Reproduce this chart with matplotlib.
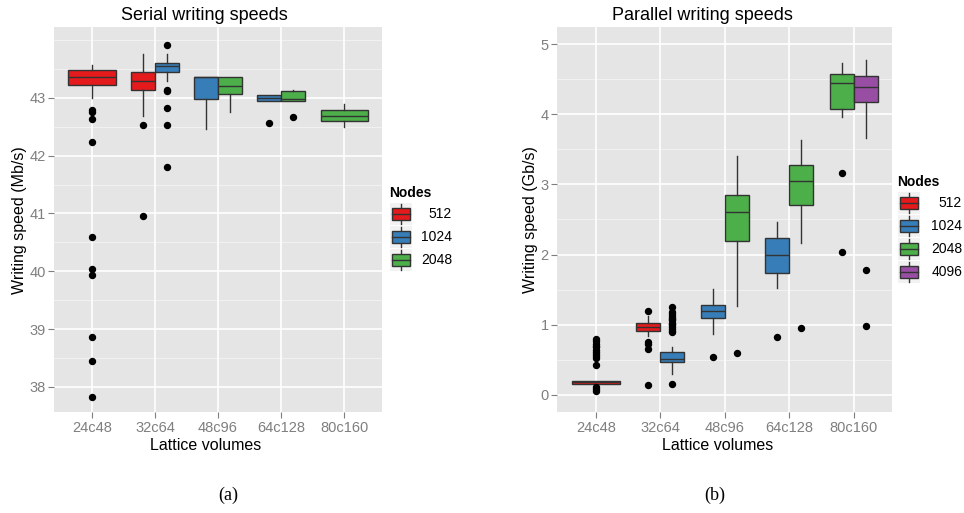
import numpy as np
import matplotlib
matplotlib.use("Agg")
import matplotlib.pyplot as plt
from matplotlib.patches import Rectangle
from matplotlib.lines import Line2D

plt.rcParams['font.family'] = ['Liberation Sans', 'DejaVu Sans']

W, H = 964, 513

volumes = ["24c48", "32c64", "48c96", "64c128", "80c160"]
node_labels = ["512", "1024", "2048", "4096"]
node_colors = ["#E41A1C", "#377EB8", "#4DAF4A", "#984EA3"]

# serial writing speeds (Mb/s), one list per node count, None = no run
serial_q1 = {"512": [43.23, 43.13, None, None, None],
             "1024": [None, 43.44, 42.98, 42.94, None],
             "2048": [None, None, 43.06, 42.94, 42.60]}
serial_med = {"512": [43.36, 43.29, None, None, None],
              "1024": [None, 43.55, 43.36, 42.99, None],
              "2048": [None, None, 43.21, 42.98, 42.69]}
serial_q3 = {"512": [43.48, 43.44, None, None, None],
             "1024": [None, 43.61, 43.36, 43.04, None],
             "2048": [None, None, 43.36, 43.11, 42.79]}
serial_lo = {"512": [42.99, 42.68, None, None, None],
             "1024": [None, 43.29, 42.46, 42.94, None],
             "2048": [None, None, 42.76, 42.94, 42.50]}
serial_hi = {"512": [43.57, 43.76, None, None, None],
             "1024": [None, 43.76, 43.36, 43.04, None],
             "2048": [None, None, 43.36, 43.13, 42.89]}
serial_out = {"512": [[42.79, 42.76, 42.64, 42.23, 40.60, 40.04, 39.93, 38.87, 38.44, 37.83],
                      [42.53, 40.95], [], [], []],
              "1024": [[], [43.91, 43.14, 43.12, 42.82, 42.53, 41.80], [], [42.56], []],
              "2048": [[], [], [], [42.67], []]}

# parallel writing speeds (Gb/s)
par_q1 = {"512": [0.16, 0.91, None, None, None],
          "1024": [None, 0.47, 1.10, 1.73, None],
          "2048": [None, None, 2.20, 2.71, 4.07],
          "4096": [None, None, None, None, 4.17]}
par_med = {"512": [0.18, 0.97, None, None, None],
           "1024": [None, 0.51, 1.19, 2.00, None],
           "2048": [None, None, 2.61, 3.05, 4.45],
           "4096": [None, None, None, None, 4.39]}
par_q3 = {"512": [0.19, 1.02, None, None, None],
          "1024": [None, 0.61, 1.28, 2.23, None],
          "2048": [None, None, 2.85, 3.28, 4.58],
          "4096": [None, None, None, None, 4.54]}
par_lo = {"512": [0.15, 0.84, None, None, None],
          "1024": [None, 0.30, 0.87, 1.53, None],
          "2048": [None, None, 1.26, 2.16, 3.96],
          "4096": [None, None, None, None, 3.66]}
par_hi = {"512": [0.20, 1.13, None, None, None],
          "1024": [None, 0.68, 1.51, 2.46, None],
          "2048": [None, None, 3.41, 3.64, 4.73],
          "4096": [None, None, None, None, 4.78]}
par_out = {"512": [[0.80, 0.77, 0.73, 0.70, 0.68, 0.64, 0.61, 0.58, 0.56, 0.53, 0.43, 0.11, 0.085, 0.06],
                   [1.19, 0.75, 0.72, 0.65, 0.14], [], [], []],
           "1024": [[], [1.25, 1.18, 1.15, 1.13, 1.10, 1.08, 1.06, 1.03, 1.01, 0.99, 0.96, 0.94, 0.91, 0.89, 0.16],
                    [0.54], [0.82], []],
           "2048": [[], [], [0.60], [0.95], [3.17, 2.03]],
           "4096": [[], [], [], [], [1.78, 0.98]]}


def fx(x):
    return x / W


def fy(y):
    return 1 - y / H


def style_axes(ax, ylim, majors, minors):
    ax.set_facecolor("#E5E5E5")
    for s in ax.spines.values():
        s.set_visible(False)
    ax.set_xlim(0.4, len(volumes) + 0.6)
    ax.set_ylim(*ylim)
    for m in minors:
        ax.axhline(m, color="#F2F2F2", lw=0.7, zorder=0)
    for m in majors:
        ax.axhline(m, color="white", lw=1.2, zorder=0)
    for i in range(len(volumes)):
        ax.axvline(i + 1, color="white", lw=1.2, zorder=0)
    ax.set_xticks(np.arange(1, len(volumes) + 1))
    ax.set_xticklabels(volumes)
    ax.set_yticks(majors)
    ax.tick_params(colors="#7F7F7F", labelcolor="#7F7F7F", labelsize=10.5,
                   length=4, width=0.8, pad=2)


def draw_boxes(ax, nodes, q1, med, q3, lo, hi, out):
    for i in range(len(volumes)):
        present = [n for n in nodes if med[n][i] is not None]
        k = len(present)
        w = 0.75 / k
        for j, n in enumerate(present):
            pos = i + 1 - 0.375 + w * (j + 0.5)
            st = dict(med=med[n][i], q1=q1[n][i], q3=q3[n][i],
                      whislo=lo[n][i], whishi=hi[n][i], fliers=out[n][i])
            c = node_colors[node_labels.index(n)]
            ax.bxp([st], positions=[pos], widths=[w], patch_artist=True,
                   showcaps=False, manage_ticks=False,
                   boxprops=dict(facecolor=c, edgecolor="#333333", lw=1.0),
                   medianprops=dict(color="#333333", lw=1.0),
                   whiskerprops=dict(color="#333333", lw=1.0),
                   flierprops=dict(marker="o", markerfacecolor="black",
                                   markeredgecolor="black", markersize=4.3),
                   zorder=3)


def draw_legend(fig, x0, ytop, nodes, label_right, step):
    fig.text(fx(x0 - 2), fy(ytop), "Nodes", fontsize=10, fontweight="bold",
             va="center", ha="left", zorder=10)
    for j, n in enumerate(nodes):
        yc = ytop + 21 + j * step
        c = node_colors[node_labels.index(n)]
        fig.patches.append(Rectangle((fx(x0 - 1), fy(yc + 11)), 22 / W, 22 / H,
                                     transform=fig.transFigure, facecolor="#F2F2F2",
                                     edgecolor="none", zorder=10))
        fig.lines.append(Line2D([fx(x0 + 10), fx(x0 + 10)], [fy(yc + 10), fy(yc - 10)],
                                transform=fig.transFigure, color="#333333", lw=1.0,
                                zorder=11))
        fig.patches.append(Rectangle((fx(x0 + 1), fy(yc + 6)), 18 / W, 12 / H,
                                     transform=fig.transFigure, facecolor=c,
                                     edgecolor="#333333", lw=1.0, zorder=12))
        fig.lines.append(Line2D([fx(x0 + 1), fx(x0 + 19)], [fy(yc), fy(yc)],
                                transform=fig.transFigure, color="#333333", lw=1.0,
                                zorder=13))
        fig.text(fx(label_right), fy(yc), n, fontsize=10, ha="right", va="center",
                 zorder=13)


fig = plt.figure(figsize=(W / 100, H / 100), dpi=100)
top, bot = 26.7, 412.3
axL = fig.add_axes([fx(54), fy(bot), (382 - 54) / W, (bot - top) / H])
axR = fig.add_axes([fx(557), fy(bot), (892.5 - 557) / W, (bot - top) / H])

style_axes(axL, (37.56, 44.23), np.arange(38, 44), np.arange(38.5, 44.1, 1.0).tolist() + [44.0])
draw_boxes(axL, ["512", "1024", "2048"], serial_q1, serial_med, serial_q3,
           serial_lo, serial_hi, serial_out)

style_axes(axR, (-0.25, 5.25), np.arange(0, 6), np.arange(0.5, 5.0, 1.0))
draw_boxes(axR, node_labels, par_q1, par_med, par_q3, par_lo, par_hi, par_out)

# titles and axis labels
fig.text(fx(204), fy(16), "Serial writing speeds", fontsize=13, ha="center", va="center")
fig.text(fx(702), fy(16), "Parallel writing speeds", fontsize=13, ha="center", va="center")
fig.text(fx(20), fy(220), "Writing speed (Mb/s)", fontsize=11.5, rotation=90,
         ha="center", va="center")
fig.text(fx(530), fy(220), "Writing speed (Gb/s)", fontsize=11.5, rotation=90,
         ha="center", va="center")
fig.text(fx(206), fy(446), "Lattice volumes", fontsize=11.5, ha="center", va="center")
fig.text(fx(718), fy(446), "Lattice volumes", fontsize=11.5, ha="center", va="center")
fig.text(fx(228), fy(495), "(a)", fontsize=13, ha="center", va="center",
         family=["Liberation Serif", "DejaVu Serif"])
fig.text(fx(715), fy(495), "(b)", fontsize=13, ha="center", va="center",
         family=["Liberation Serif", "DejaVu Serif"])

# legends
draw_legend(fig, 391, 193, ["512", "1024", "2048"], 452, 23)
fig.patches.append(Rectangle((fx(893), fy(290)), 71 / W, 119 / H,
                             transform=fig.transFigure, facecolor="white",
                             edgecolor="none", zorder=5))
draw_legend(fig, 899, 182, node_labels, 962, 23)

fig.savefig("out.png", dpi=100)
